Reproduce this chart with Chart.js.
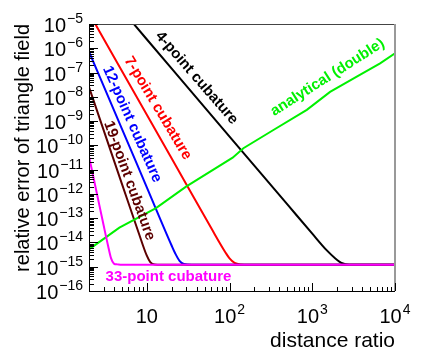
<!DOCTYPE html>
<html>
<head>
<meta charset="utf-8">
<script src="https://cdn.jsdelivr.net/npm/chart.js@4.4.0/dist/chart.umd.min.js"></script>
<style>
  html, body { margin: 0; padding: 0; background: #fff; }
  #wrap { width: 445px; height: 352px; }
</style>
</head>
<body>
<div id="wrap"><canvas id="grafico" width="445" height="352"></canvas></div>
<script>
// Valores (distancia relativa vs error relativo)
const ratio4  = [6.8, 20, 100, 500, 1000, 1500, 1900, 2300, 2800, 10000];
const err4    = [1.1e-5, 1.44e-7, 2.3e-10, 3.7e-13, 2.3e-14, 4.7e-15, 2.2e-15, 1.4e-15, 1.22e-15, 1.2e-15];

const ratio7  = [2.3, 5, 10, 30, 60, 90, 100, 115, 135, 180, 10000];
const err7    = [1.23e-5, 1.17e-7, 1.83e-9, 2.5e-12, 3.9e-14, 3.7e-15, 2.2e-15, 1.43e-15, 1.24e-15, 1.2e-15, 1.2e-15];

const ratio12 = [2, 5, 10, 20, 22, 25, 28, 35, 10000];
const err12   = [7.2e-7, 4.8e-10, 1.86e-12, 7.3e-15, 3.6e-15, 1.7e-15, 1.3e-15, 1.2e-15, 1.2e-15];

const ratio19 = [2, 5, 8, 10, 11, 12.5, 15, 10000];
const err19   = [2.5e-8, 2.6e-12, 2.4e-14, 2.84e-15, 1.56e-15, 1.23e-15, 1.2e-15, 1.2e-15];

const ratio33 = [2, 2.2, 2.5, 3, 3.4, 3.7, 4.0, 4.4, 5, 10000];
const err33   = [3.5e-11, 7.6e-12, 9.8e-13, 5.2e-14, 7.3e-15, 2.2e-15, 1.35e-15, 1.25e-15, 1.2e-15, 1.2e-15];

const ratioAn = [2, 4.66, 12.9, 29.8, 109, 147, 339, 859, 1641, 3451, 6607, 10000];
const errAn   = [5.2e-15, 4.1e-14, 2.6e-13, 2.0e-12, 3.1e-11, 7.6e-11, 4.3e-10, 2.9e-9, 1.6e-8, 6.8e-8, 2.4e-7, 6.2e-7];

// Etiquetas de los ejes
const xTicks = [10, 100, 1000, 10000];
const xTickExp = ['', '2', '3', '4'];
const yTickExp = [-16, -15, -14, -13, -12, -11, -10, -9, -8, -7, -6, -5];

const FONT = '"Liberation Sans", Arial, Helvetica, sans-serif';

function puntos(xs, ys) {
    return xs.map((v, i) => ({ x: v, y: ys[i] }));
}

function serie(xs, ys, color, suave) {
    return {
        data: puntos(xs, ys),
        borderColor: color,
        borderWidth: 2,
        pointRadius: 0,
        fill: false,
        cubicInterpolationMode: suave ? 'monotone' : 'default',
        tension: 0
    };
}

// Textos sobre las curvas (posicion en coordenadas de datos)
const rotulos = [
    { texto: '4-point cubature', color: '#000000', x: 40, y: 6e-8, ang: 49 },
    { texto: '7-point cubature', color: '#ff0000', x: 13.6, y: 3.4e-9, ang: 59 },
    { texto: '12-point cubature', color: '#0000ff', x: 6.65, y: 7.4e-10, ang: 66 },
    { texto: '19-point cubature', color: '#5c0000', x: 6.14, y: 3.5e-12, ang: 70 },
    { texto: '33-point cubature', color: '#ff00ff', x: 18.3, y: 3.9e-16, ang: 0 },
    { texto: 'analytical (double)', color: '#00f000', x: 1530, y: 6.3e-8, ang: -32.4 }
];

function potencia(ctx, base, exp, x, y, alinear) {
    ctx.font = '20px ' + FONT;
    const wb = ctx.measureText(base).width;
    ctx.font = '14px ' + FONT;
    const we = exp ? ctx.measureText(exp).width + 1 : 0;
    const total = wb + we;
    let x0 = alinear === 'right' ? x - total : x - total / 2;
    ctx.textAlign = 'left';
    ctx.textBaseline = 'alphabetic';
    ctx.font = '20px ' + FONT;
    ctx.fillText(base, x0, y);
    if (exp) {
        ctx.font = '14px ' + FONT;
        ctx.fillText(exp, x0 + wb + 1, y - 9);
    }
}

const marco = {
    id: 'marco',
    afterDatasetsDraw(chart) {
        const ctx = chart.ctx;
        const a = chart.chartArea;
        const sx = chart.scales.x;
        const sy = chart.scales.y;
        ctx.save();

        // bordes
        ctx.lineWidth = 1;
        ctx.strokeStyle = '#444';
        ctx.beginPath();
        ctx.moveTo(a.left, a.top + 0.5);
        ctx.lineTo(a.right, a.top + 0.5);
        ctx.stroke();
        ctx.strokeStyle = '#999';
        ctx.lineWidth = 2;
        ctx.beginPath();
        ctx.moveTo(a.right, a.top);
        ctx.lineTo(a.right, a.bottom);
        ctx.stroke();
        ctx.strokeStyle = '#000';
        ctx.lineWidth = 1;
        ctx.beginPath();
        ctx.moveTo(a.left + 0.5, a.top);
        ctx.lineTo(a.left + 0.5, a.bottom + 0.5);
        ctx.lineTo(a.right, a.bottom + 0.5);
        ctx.stroke();

        // marcas eje y (hacia dentro)
        ctx.beginPath();
        for (let e = -16; e <= -5; e++) {
            const py = Math.round(sy.getPixelForValue(Math.pow(10, e))) + 0.5;
            ctx.moveTo(a.left, py);
            ctx.lineTo(a.left + 9, py);
            if (e < -5) {
                for (let k = 2; k <= 9; k++) {
                    const pm = Math.round(sy.getPixelForValue(k * Math.pow(10, e))) + 0.5;
                    ctx.moveTo(a.left, pm);
                    ctx.lineTo(a.left + 5, pm);
                }
            }
        }
        // marcas eje x
        for (let e = 0; e <= 4; e++) {
            for (let k = 1; k <= 9; k++) {
                const v = k * Math.pow(10, e);
                if (v < 2 || v > 10000) continue;
                const px = Math.round(sx.getPixelForValue(v)) + 0.5;
                const largo = k === 1 ? 8 : 4;
                ctx.moveTo(px, a.bottom);
                ctx.lineTo(px, a.bottom - largo);
            }
        }
        ctx.stroke();

        // etiquetas
        ctx.fillStyle = '#000';
        yTickExp.forEach(e => {
            const py = sy.getPixelForValue(Math.pow(10, e));
            potencia(ctx, '10', '\u2212' + Math.abs(e), a.left - 6, py + 8, 'right');
        });
        xTicks.forEach((v, i) => {
            const px = sx.getPixelForValue(v);
            potencia(ctx, '10', xTickExp[i], px, a.bottom + 32, 'center');
        });

        // titulos
        ctx.font = '21px ' + FONT;
        ctx.textAlign = 'right';
        ctx.textBaseline = 'alphabetic';
        ctx.fillText('distance ratio', a.right, 347);
        ctx.font = '20px ' + FONT;
        ctx.save();
        ctx.translate(29, a.top);
        ctx.rotate(-Math.PI / 2);
        ctx.fillText('relative error of triangle field', 0, 0);
        ctx.restore();

        // textos de las curvas
        ctx.font = 'bold 15px ' + FONT;
        ctx.textAlign = 'center';
        ctx.textBaseline = 'middle';
        rotulos.forEach(r => {
            ctx.save();
            ctx.translate(sx.getPixelForValue(r.x), sy.getPixelForValue(r.y));
            ctx.rotate(r.ang * Math.PI / 180);
            ctx.fillStyle = r.color;
            ctx.fillText(r.texto, 0, 0);
            ctx.restore();
        });
        ctx.restore();
    }
};

const ctx = document.getElementById('grafico').getContext('2d');
new Chart(ctx, {
    type: 'line',
    data: {
        datasets: [
            serie(ratio33, err33, '#ff00ff', true),
            serie(ratioAn, errAn, '#00f000', false),
            serie(ratio19, err19, '#5c0000', true),
            serie(ratio12, err12, '#0000ff', true),
            serie(ratio7, err7, '#ff0000', true),
            serie(ratio4, err4, '#000000', true)
        ]
    },
    options: {
        responsive: false,
        animation: false,
        devicePixelRatio: 1,
        layout: { padding: { left: 89, right: 50, top: 24, bottom: 61 } },
        plugins: { legend: { display: false }, tooltip: { enabled: false } },
        scales: {
            x: { type: 'logarithmic', min: 2, max: 10000, display: false },
            y: { type: 'logarithmic', min: 1e-16, max: 1e-5, display: false }
        }
    },
    plugins: [marco]
});
</script>
</body>
</html>
